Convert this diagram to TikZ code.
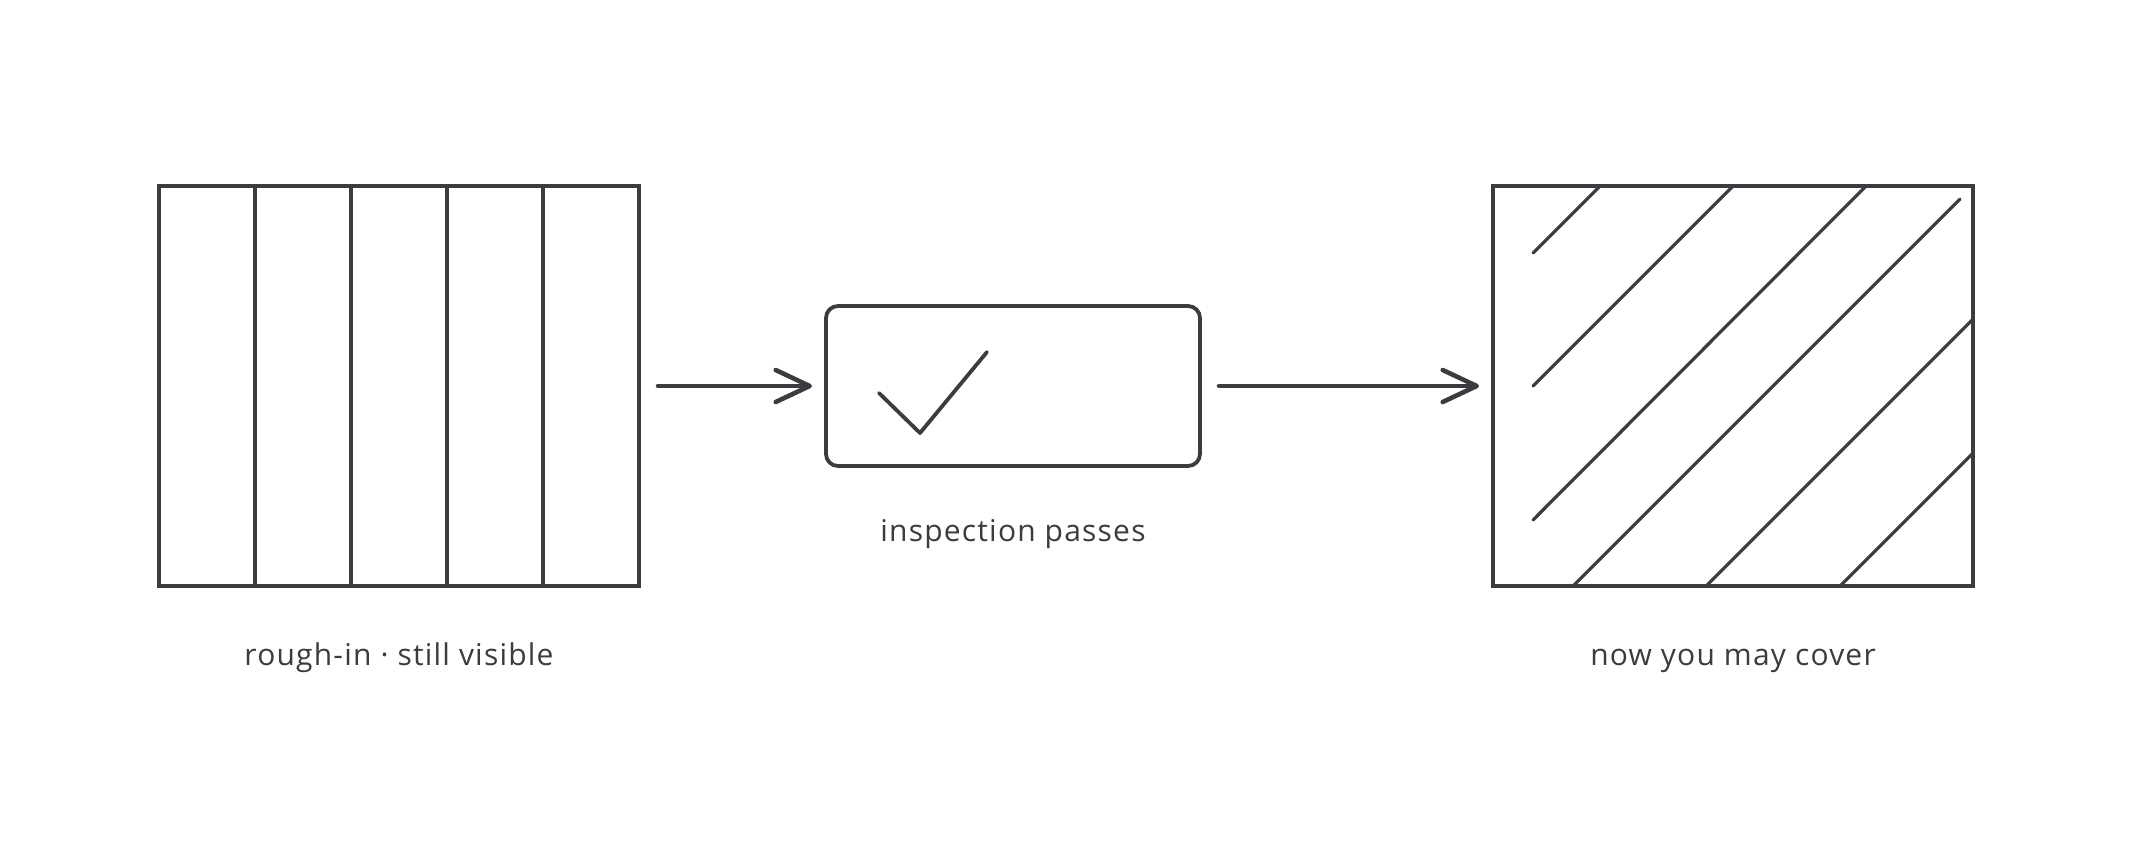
\documentclass[tikz,border=0pt]{standalone}
\usepackage{fontspec}
\setmainfont{Open Sans}
\newfontfamily\capfont[LetterSpace=4]{Open Sans}
\usetikzlibrary{arrows.meta,calc,positioning}
\definecolor{InkClr}{rgb}{0.235,0.235,0.25}

\begin{document}
\begin{tikzpicture}[x=0.5pt,y=-0.5pt,
  box/.style={draw=InkClr,line width=1.9pt,inner sep=0pt,outer sep=0pt},
  link/.style={draw=InkClr,line width=2.3pt,line cap=round,
    -{Straight Barb[length=17pt,width=16pt,round]},shorten <=9.5pt,shorten >=7pt},
  rule/.style={draw=InkClr,line width=1.6pt,line cap=round},
  caption/.style={text=InkClr,font=\capfont\fontsize{15}{18}\selectfont,anchor=base}]
\useasboundingbox (0,0) rectangle (2133,853);

\node[box,minimum width=240pt,minimum height=200pt] (A) at (399,386) {};
\node[box,rounded corners=6pt,minimum width=187pt,minimum height=80pt] (B) at (1013,386) {};
\node[box,minimum width=240pt,minimum height=200pt] (C) at (1733,386) {};

\foreach \i in {1,...,4}
  \draw[rule] ($(A.north west)!\i/5!(A.north east)$) -- ($(A.south west)!\i/5!(A.south east)$);

\foreach \xa/\ya/\xb/\yb in {40/67/107/0,40/200/240/0,40/334/373/0,80/400/467/13,213/400/480/133,347/400/480/267}
  \draw[rule] ([shift={(\xa,\ya)}]C.north west) -- ([shift={(\xb,\yb)}]C.north west);

\draw[rule,line width=1.9pt,line join=round] ([shift={(-134,7)}]B.center) -- ([shift={(-93,47)}]B.center) -- ([shift={(-26,-34)}]B.center);

\draw[link] (A) -- (B);
\draw[link] (B) -- (C);

\node[caption] (LA) at ([yshift=-39.5pt]A.south) {rough-in · still visible};
\node[caption] (LB) at ([yshift=-37.5pt]B.south) {inspection passes};
\node[caption] (LC) at ([yshift=-39.5pt]C.south) {now you may cover};

\end{tikzpicture}
\end{document}
